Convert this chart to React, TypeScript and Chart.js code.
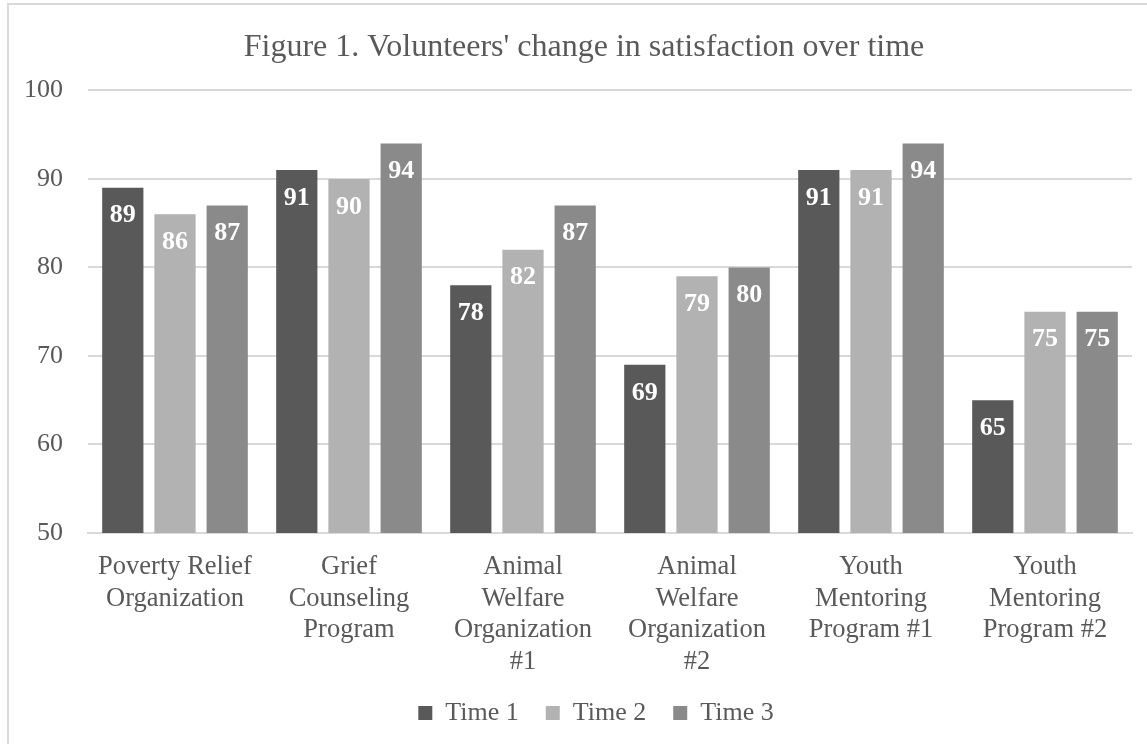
import React, { useEffect, useRef } from "react";
import { Chart, registerables } from "chart.js";

Chart.register(...registerables);

const categories: string[][] = [
  ["Poverty Relief", "Organization"],
  ["Grief", "Counseling", "Program"],
  ["Animal", "Welfare", "Organization", "#1"],
  ["Animal", "Welfare", "Organization", "#2"],
  ["Youth", "Mentoring", "Program #1"],
  ["Youth", "Mentoring", "Program #2"],
];
const time1: number[] = [89, 91, 78, 69, 91, 65];
const time2: number[] = [86, 90, 82, 79, 91, 75];
const time3: number[] = [87, 94, 87, 80, 94, 75];
const seriesNames: string[] = ["Time 1", "Time 2", "Time 3"];
const seriesColors: string[] = ["#595959", "#b2b2b2", "#8a8a8a"];
const yTicks = { min: 50, max: 100, step: 10 };

const FONT = "'Liberation Serif', 'Times New Roman', serif";

const valueLabels = {
  id: "valueLabels",
  afterDatasetsDraw(chart: any) {
    const ctx = chart.ctx;
    ctx.save();
    ctx.fillStyle = "#ffffff";
    ctx.font = `bold 26px ${FONT}`;
    ctx.textAlign = "center";
    ctx.textBaseline = "middle";
    chart.data.datasets.forEach((ds: any, i: number) => {
      const meta = chart.getDatasetMeta(i);
      meta.data.forEach((bar: any, j: number) => {
        ctx.fillText(String(ds.data[j]), bar.x, bar.y + 28);
      });
    });
    ctx.restore();
  },
};

// The original chart frame extends past the right edge; recentre title and legend on it.
const shiftBoxes = {
  id: "shiftBoxes",
  afterLayout(chart: any) {
    if (chart.titleBlock) {
      chart.titleBlock.left += 18;
      chart.titleBlock.right += 18;
    }
    if (chart.legend) {
      chart.legend.left += 30;
      chart.legend.right += 30;
    }
  },
};

export default function App() {
  const ref = useRef<HTMLCanvasElement | null>(null);
  useEffect(() => {
    if (!ref.current) return;
    const chart = new Chart(ref.current, {
      type: "bar",
      data: {
        labels: categories,
        datasets: [time1, time2, time3].map((d, i) => ({
          label: seriesNames[i],
          data: d,
          backgroundColor: seriesColors[i],
          borderWidth: 0,
          barPercentage: 0.79,
          categoryPercentage: 0.9,
        })),
      },
      options: {
        animation: false,
        responsive: false,
        maintainAspectRatio: false,
        layout: { padding: { top: 16, left: 0, right: 15, bottom: 8 } },
        plugins: {
          title: {
            display: true,
            text: "Figure 1. Volunteers' change in satisfaction over time",
            color: "#595959",
            font: { family: FONT, size: 32, weight: "normal", lineHeight: 1.2 },
            padding: { top: 12, bottom: 24 },
          },
          legend: {
            position: "bottom",
            labels: {
              color: "#595959",
              font: { family: FONT, size: 26 },
              boxWidth: 14,
              boxHeight: 14,
              padding: 27,
            },
          },
          tooltip: { enabled: false },
        },
        scales: {
          x: {
            grid: { display: false, drawTicks: false },
            border: { display: true, color: "#d9d9d9", width: 2 },
            ticks: {
              color: "#595959",
              font: { family: FONT, size: 26.5, lineHeight: 1.2 },
              padding: 18,
              maxRotation: 0,
              autoSkip: false,
            },
            afterFit(scale: any) {
              scale.height = 140;
            },
          },
          y: {
            min: yTicks.min,
            max: yTicks.max,
            grid: { color: "#d9d9d9", lineWidth: 2, drawTicks: false },
            border: { display: false },
            ticks: {
              stepSize: yTicks.step,
              color: "#595959",
              font: { family: FONT, size: 26 },
              padding: 25,
            },
            afterFit(scale: any) {
              scale.width = 88;
            },
          },
        },
      },
      plugins: [valueLabels, shiftBoxes],
    });
    return () => chart.destroy();
  }, []);
  return (
    <div style={{ position: "fixed", left: 0, top: 0, width: 1147, height: 744, background: "#fff" }}>
      <div
        style={{
          position: "absolute",
          left: 7,
          top: 3,
          width: 1147,
          height: 744,
          borderLeft: "2px solid #d9d9d9",
          borderTop: "2px solid #d9d9d9",
          boxSizing: "border-box",
        }}
      />
      <canvas ref={ref} width={1147} height={744} style={{ position: "absolute", left: 0, top: 0 }} />
    </div>
  );
}
